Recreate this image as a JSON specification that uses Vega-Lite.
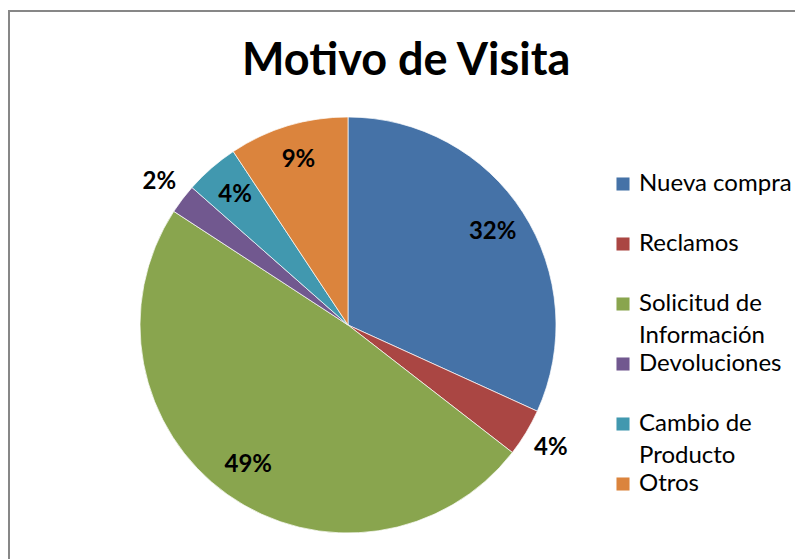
{
  "$schema": "https://vega.github.io/schema/vega-lite/v6.json",
  "width": 800,
  "height": 560,
  "autosize": {"type": "none"},
  "padding": {"left": 9, "top": 11, "right": 0, "bottom": 0},
  "background": "white",
  "title": {
    "text": "Motivo de Visita",
    "font": "Lato",
    "fontSize": 45,
    "fontWeight": "bold",
    "color": "#000000",
    "anchor": "start",
    "baseline": "alphabetic",
    "dx": 234,
    "dy": 110,
    "offset": 0
  },
  "data": {
    "values": [
      {"motivo": "Nueva compra", "pct": 0.318, "i": 1},
      {"motivo": "Reclamos", "pct": 0.037, "i": 2},
      {"motivo": "Solicitud de Información", "pct": 0.487, "i": 3},
      {"motivo": "Devoluciones", "pct": 0.023, "i": 4},
      {"motivo": "Cambio de Producto", "pct": 0.042, "i": 5},
      {"motivo": "Otros", "pct": 0.093, "i": 6}
    ]
  },
  "layer": [
    {
      "data": {"values": [{"frame": 1}]},
      "mark": {"type": "rect", "fill": null, "stroke": "#878787", "strokeWidth": 2},
      "encoding": {
        "x": {"value": 0},
        "x2": {"value": "width"},
        "y": {"value": 0},
        "y2": {"value": "height"}
      }
    },
    {
      "mark": {"type": "arc", "x": 339, "y": 314, "outerRadius": 208, "stroke": "white", "strokeWidth": 0.7},
      "encoding": {
        "theta": {"field": "pct", "type": "quantitative", "stack": true},
        "order": {"field": "i", "type": "quantitative"},
        "color": {
          "field": "motivo",
          "type": "nominal",
          "sort": null,
          "scale": {
            "domain": ["Nueva compra", "Reclamos", "Solicitud de Información", "Devoluciones", "Cambio de Producto", "Otros"],
            "range": ["#4572A7", "#AA4643", "#89A54E", "#71588F", "#4198AF", "#DB843D"]
          },
          "legend": {
            "title": null,
            "orient": "none",
            "legendX": 602,
            "legendY": 161,
            "padding": 0,
            "symbolType": "square",
            "symbolSize": 170,
            "symbolStrokeWidth": 0,
            "symbolOpacity": 1,
            "labelFont": "Lato",
            "labelFontSize": 24,
            "labelColor": "#000000",
            "labelLimit": 300,
            "labelOffset": 4,
            "rowPadding": 4,
            "labelExpr": "datum.label == 'Solicitud de Información' ? ['Solicitud de', 'Información'] : datum.label == 'Cambio de Producto' ? ['Cambio de', 'Producto'] : [datum.label, '']"
          }
        }
      }
    },
    {
      "mark": {
        "type": "text",
        "x": 339,
        "y": 314,
        "radius": {"expr": "datum.motivo == 'Reclamos' || datum.motivo == 'Devoluciones' ? 237 : 172"},
        "font": "Lato",
        "fontSize": 24,
        "fontWeight": "bold",
        "color": "#000000"
      },
      "encoding": {
        "theta": {"field": "pct", "type": "quantitative", "stack": true},
        "order": {"field": "i", "type": "quantitative"},
        "text": {"field": "pct", "type": "quantitative", "format": ".0%"},
        "color": {"value": "#000000"}
      }
    }
  ],
  "config": {
    "view": {"stroke": null},
    "style": {"guide-label": {"lineHeight": 32}}
  }
}
